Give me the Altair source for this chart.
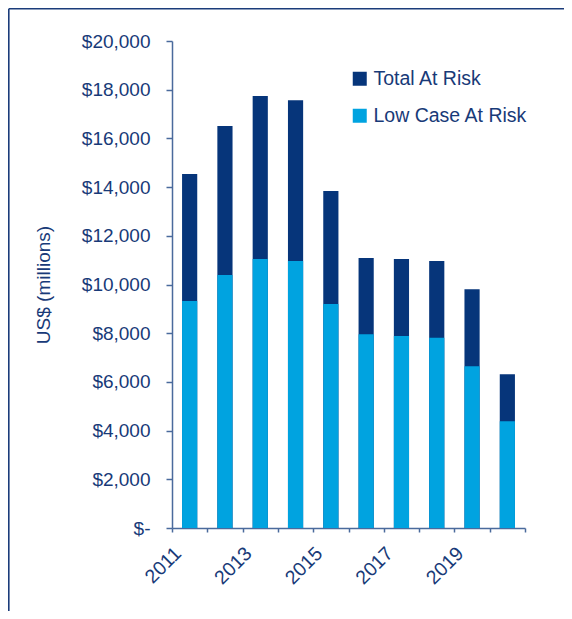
import altair as alt
import pandas as pd

years = ["2011", "2012", "2013", "2014", "2015", "2016", "2017", "2018", "2019", "2020"]
total_at_risk = [14540, 16510, 17740, 17570, 13840, 11090, 11050, 10960, 9810, 6310]
low_case_at_risk = [9320, 10390, 11050, 10960, 9200, 7960, 7890, 7810, 6645, 4385]
series_names = ["Total At Risk", "Low Case At Risk"]
series_colors = ["#06357A", "#00A3E0"]

rows = []
for y, t in zip(years, total_at_risk):
    rows.append({"year": y, "series": series_names[0], "value": t})
for y, l in zip(years, low_case_at_risk):
    rows.append({"year": y, "series": series_names[1], "value": l})
df = pd.DataFrame(rows)

FONT = "Liberation Sans"
TXT = "#183A78"
AX = "#4A6A9C"

bars = alt.Chart(df).mark_bar(width=alt.RelativeBandSize(0.43)).encode(
    x=alt.X("year:N", sort=years,
            scale=alt.Scale(paddingInner=0, paddingOuter=0),
            axis=alt.Axis(title=None, labelAngle=-45, labelAlign="right", labelBaseline="middle",
                          labelPadding=18, labelOffset=-12, tickBand="extent", tickSize=4,
                          labelExpr="toNumber(datum.value) % 2 == 1 ? datum.value : ''",
                          labelFont=FONT, labelFontSize=19.5, labelColor=TXT,
                          domainColor=AX, tickColor=AX, domainWidth=1.5, tickWidth=1.5)),
    y=alt.Y("value:Q", stack=None,
            scale=alt.Scale(domain=[0, 20000], nice=False),
            axis=alt.Axis(title="US$ (millions)", values=list(range(0, 20001, 2000)),
                          labelExpr="datum.value == 0 ? '$-' : format(datum.value, '$,.0f')",
                          labelFont=FONT, labelFontSize=19, labelColor=TXT, labelPadding=16,
                          titleFont=FONT, titleFontSize=19, titleFontWeight="normal", titleColor=TXT,
                          titlePadding=28, grid=False, tickSize=6,
                          domainColor=AX, tickColor=AX, domainWidth=1.5, tickWidth=1.5)),
    color=alt.Color("series:N", scale=alt.Scale(domain=series_names, range=series_colors),
                    legend=alt.Legend(title=None, orient="none", legendX=178, legendY=28,
                                      symbolType="square", symbolSize=196, symbolStrokeWidth=0,
                                      labelFont=FONT, labelFontSize=19.5, labelColor=TXT,
                                      labelOffset=4, rowPadding=16, padding=0)),
)

frame_data = alt.Data(values=[{"k": 1}])
frame_v = alt.Chart(frame_data).mark_rule(color="#1B3C7A", strokeWidth=1.6).encode(
    x=alt.value(-163.2), y=alt.value(-32.2), y2=alt.value(600))
frame_h = alt.Chart(frame_data).mark_rule(color="#1B3C7A", strokeWidth=1.6).encode(
    x=alt.value(-163.2), x2=alt.value(420), y=alt.value(-32.2))

chart = alt.layer(bars, frame_v, frame_h).properties(
    width=353, height=487,
    autosize=alt.AutoSizeParams(type="none"),
    padding={"left": 164, "top": 33, "right": 39, "bottom": 83},
).configure_view(stroke=None)

chart.save("out.html", embed_options={"renderer": "svg", "actions": False})
